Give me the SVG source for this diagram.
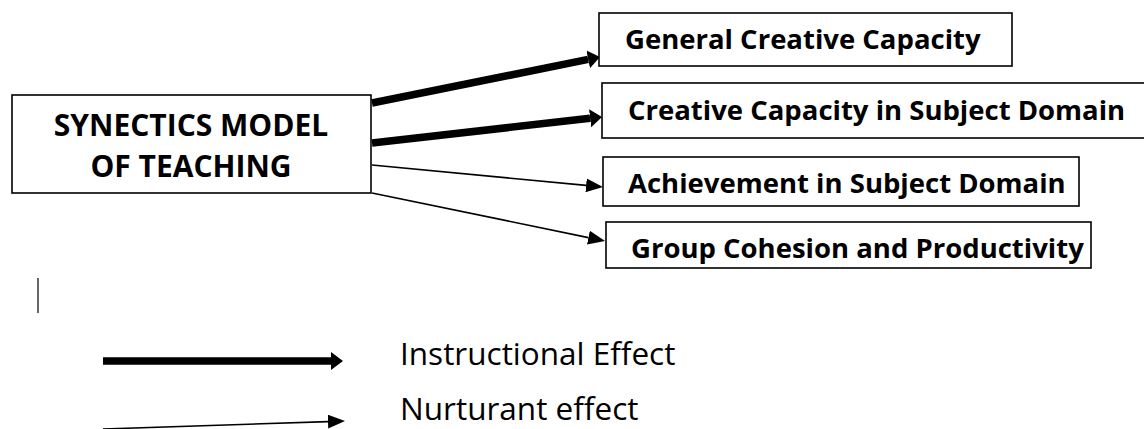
<svg xmlns="http://www.w3.org/2000/svg" width="1144" height="429" viewBox="0 0 1144 429">
<style>
.box{fill:#fff;stroke:#000;stroke-width:1.6}
.lbl{font-family:"Open Sans","Liberation Sans",sans-serif;font-weight:bold;font-size:27.5px;fill:#000}
.ttl{font-family:"Open Sans","Liberation Sans",sans-serif;font-weight:bold;font-size:30px;fill:#000;text-anchor:middle}
.leg{font-family:"Open Sans","Liberation Sans",sans-serif;font-size:31.5px;fill:#000}
.thick{stroke:#000;stroke-width:7.5;fill:none}
.thin{stroke:#000;stroke-width:1.6;fill:none}
</style>
<defs>
<marker id="hThick" markerUnits="userSpaceOnUse" viewBox="0 0 12 18" markerWidth="12" markerHeight="18" refX="0" refY="9" orient="auto">
<path d="M0,0 L12,9 L0,18 Z" fill="#000"/>
</marker>
<marker id="hThin" markerUnits="userSpaceOnUse" viewBox="0 0 17 14" markerWidth="17" markerHeight="14" refX="0" refY="7" orient="auto">
<path d="M0,0 L17,7 L0,14 Z" fill="#000"/>
</marker>
</defs>
<g id="connectors">
<line class="thick" x1="372" y1="103" x2="588.2" y2="59.4" marker-end="url(#hThick)"/>
<line class="thick" x1="372" y1="143" x2="590.1" y2="118.3" marker-end="url(#hThick)"/>
<line class="thin" x1="372" y1="165" x2="586.1" y2="185.4" marker-end="url(#hThin)"/>
<line class="thin" x1="372" y1="193" x2="588.4" y2="237.6" marker-end="url(#hThin)"/>
</g>
<g id="synectics">
<rect class="box" x="12" y="95" width="359" height="98"/>
<text class="ttl" x="191" y="135.5">SYNECTICS MODEL</text>
<text class="ttl" x="191" y="176.5">OF TEACHING</text>
</g>
<g id="general">
<rect class="box" x="599" y="13" width="413" height="53"/>
<text class="lbl" x="625" y="49">General Creative Capacity</text>
</g>
<g id="creative-subject">
<rect class="box" x="602" y="83" width="560" height="55"/>
<text class="lbl" x="628" y="120">Creative Capacity in Subject Domain</text>
</g>
<g id="achievement">
<rect class="box" x="603" y="157" width="476" height="49"/>
<text class="lbl" x="628" y="193">Achievement in Subject Domain</text>
</g>
<g id="group">
<rect class="box" x="606" y="222" width="485" height="46"/>
<text class="lbl" x="631" y="258">Group Cohesion and Productivity</text>
</g>
<g id="legend">
<line stroke="#000" stroke-width="1.2" x1="38" y1="278" x2="38" y2="313"/>
<line class="thick" x1="103" y1="361" x2="331" y2="361" marker-end="url(#hThick)"/>
<text class="leg" x="400" y="365">Instructional Effect</text>
<line class="thin" x1="103" y1="429" x2="328" y2="421.6" marker-end="url(#hThin)"/>
<text class="leg" x="400" y="419.5">Nurturant effect</text>
</g>
</svg>
